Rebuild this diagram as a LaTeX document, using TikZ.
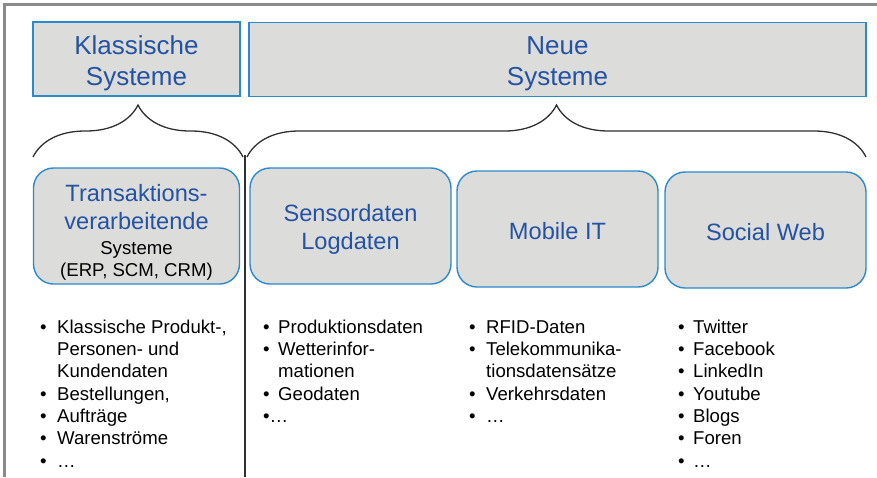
\documentclass[tikz,border=0pt]{standalone}
\usepackage{fontspec}
\setmainfont{Liberation Sans}
\usetikzlibrary{decorations.pathreplacing}
\definecolor{boxf}{HTML}{DCDCDB}
\definecolor{boxb}{HTML}{2B8ACB}
\definecolor{ttl}{HTML}{2452A4}
\definecolor{frm}{HTML}{8A8A8A}
\definecolor{brc}{HTML}{303030}
\newcommand{\itm}[1]{\makebox[17pt][l]{\textbullet}#1}
\newcommand{\cnt}[1]{\hspace*{17pt}#1}
\newcommand{\fst}{\rule{0pt}{15pt}}
\newcommand{\up}[1]{\rule{0pt}{#1}}
\begin{document}
\begin{tikzpicture}[
  x=1pt, y=-1pt, font=\fontsize{18.6}{22.3}\selectfont,
  sys/.style={draw=boxb, fill=boxf, line width=1.4pt, align=center, text=ttl,
              font=\fontsize{26}{31}\selectfont, inner sep=0pt, minimum height=74pt},
  src/.style={sys, rounded corners=20pt, minimum width=201pt, minimum height=116pt,
              font=\fontsize{23.6}{28}\selectfont},
  lst/.style={align=left, anchor=north west, inner sep=0pt},
  brc/.style={decorate, decoration={brace, amplitude=52pt}, draw=brc, line width=1.3pt},
  sep/.style={draw=brc, line width=1.2pt},
]
\useasboundingbox (0,0) rectangle (877,477);

% ---------------- frame
\draw[frm, line width=2.5pt] (4.5,477) -- (4.5,4.5) -- (877,4.5);

% ---------------- systems
\node[sys, minimum width=207pt] (klass) at (136.5,59) {\up{27pt}Klassische\\Systeme};
\node[sys, minimum width=617pt] (neu)   at (557.5,59.5) {\up{27pt}Neue\\Systeme};

% ---------------- braces
\draw[brc] (33,157) -- (243,157);
\draw[brc] (247,157) -- (866,157);
\draw[sep] (245,155) -- (245,477);

% ---------------- sources
\node[src, minimum width=206pt] (trans) at (136.5,226)
  {\up{30pt}Transaktions-\\verarbeitende\\[-3pt]{\color{black}\fontsize{18.6}{22.3}\selectfont Systeme}\\[-6pt]{\color{black}\fontsize{18.6}{22.3}\selectfont (ERP, SCM, CRM)}};
\node[src] (sensor) at (350.5,226) {\up{23.5pt}Sensordaten\\Logdaten};
\node[src] (mobil)  at (557.5,229) {\up{21.5pt}Mobile IT};
\node[src] (social) at (765.5,230) {\up{21.5pt}Social Web};

% ---------------- data
\node[lst] (kdaten) at (40,318) {\fst\itm{Klassische Produkt-,}\\\cnt{Personen- und}\\\cnt{Kundendaten}\\
  \itm{Bestellungen,}\\\itm{Aufträge}\\\itm{Warenströme}\\\itm{…}};
\node[lst] (sdaten) at (263,318) {\fst\makebox[15pt][l]{\textbullet}Produktionsdaten\\\makebox[15pt][l]{\textbullet}Wetterinfor-\\
  \hspace*{15pt}mationen\\\makebox[15pt][l]{\textbullet}Geodaten\\\textbullet…};
\node[lst] (mdaten) at (469,318) {\fst\itm{RFID-Daten}\\\itm{Telekommunika-}\\\cnt{tionsdatensätze}\\
  \itm{Verkehrsdaten}\\\itm{…}};
\node[lst] (wdaten) at (678,318) {\fst\makebox[15pt][l]{\textbullet}Twitter\\\makebox[15pt][l]{\textbullet}Facebook\\
  \makebox[15pt][l]{\textbullet}LinkedIn\\\makebox[15pt][l]{\textbullet}Youtube\\\makebox[15pt][l]{\textbullet}Blogs\\
  \makebox[15pt][l]{\textbullet}Foren\\\makebox[15pt][l]{\textbullet}…};

\end{tikzpicture}
\end{document}
